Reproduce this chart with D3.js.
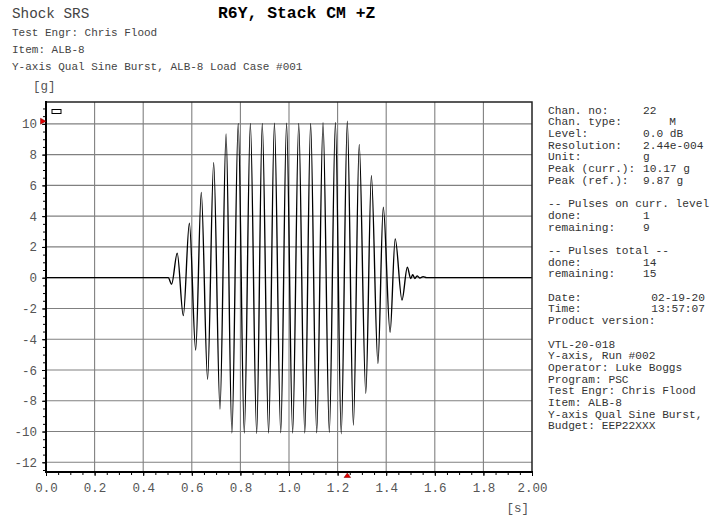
<!DOCTYPE html>
<html>
<head>
<meta charset="utf-8">
<script src="https://cdn.jsdelivr.net/npm/d3@7"></script>
<style>
  body { margin: 0; background: #fff; }
  svg { display: block; font-family: "Liberation Mono", "DejaVu Sans Mono", monospace; }
</style>
</head>
<body>
<div id="chart"></div>
<script>
// extrema of the burst
var times  = [0, 0.503, 0.517, 0.540, 0.565, 0.590, 0.616, 0.639, 0.665, 0.690, 0.716, 0.741, 0.765,
              0.791, 0.816, 0.841, 0.867, 0.890, 0.916, 0.940, 0.966, 0.990, 1.015, 1.040, 1.065,
              1.089, 1.114, 1.140, 1.166, 1.191, 1.215, 1.240, 1.265, 1.289, 1.316, 1.339, 1.366,
              1.388, 1.416, 1.437, 1.465, 1.487, 1.501, 1.509, 1.518, 1.527, 1.538, 1.552, 1.566, 2.0];
var accel  = [0, 0, -0.42, 1.59, -2.47, 3.54, -4.70, 5.55, -6.61, 7.48, -8.54, 9.34, -10.1,
              10.02, -10.1, 10.03, -10.12, 10.02, -10.1, 10.04, -10.08, 10.05, -10.1, 10.03, -10.1,
              10.02, -10.08, 10.08, -10.05, 10.1, -10.15, 10.17, -9.58, 8.67, -7.52, 6.63, -5.57,
              4.58, -3.55, 2.52, -1.45, 0.68, -0.06, 0.2, -0.05, 0.12, -0.02, 0.07, 0, 0];

var peakCurr = 10.17, peakTime = 1.24;

var yTicks = [-12, -10, -8, -6, -4, -2, 0, 2, 4, 6, 8, 10];
var xTicks = [0, 0.2, 0.4, 0.6, 0.8, 1.0, 1.2, 1.4, 1.6, 1.8, 2.0];
var xTickLabels = ["0.0", "0.2", "0.4", "0.6", "0.8", "1.0", "1.2", "1.4", "1.6", "1.8", "2.00"];

var headerLines = ["Test Engr: Chris Flood", "Item: ALB-8", "Y-axis Qual Sine Burst, ALB-8 Load Case #001"];

var infoLabels = ["Chan. no:", "Chan. type:", "Level:", "Resolution:", "Unit:", "Peak (curr.):", "Peak (ref.):", "",
                  "-- Pulses on curr. level", "done:", "remaining:", "",
                  "-- Pulses total --", "done:", "remaining:", "",
                  "Date:", "Time:", "Product version:", "",
                  "VTL-20-018", "Y-axis, Run #002", "Operator: Luke Boggs", "Program: PSC",
                  "Test Engr: Chris Flood", "Item: ALB-8", "Y-axis Qual Sine Burst,", "Budget: EEP22XXX"];
var infoValues = ["22", "M", "0.0 dB", "2.44e-004", "g", "10.17 g", "9.87 g", "",
                  "", "1", "9", "",
                  "", "14", "15", "",
                  "02-19-20", "13:57:07", "", "",
                  "", "", "", "", "", "", "", ""];

var W = 722, H = 518;
var plot = {left: 46, right: 532, top: 102, bottom: 472};

var svg = d3.select("#chart").append("svg")
    .attr("width", W)
    .attr("height", H);

svg.append("rect").attr("width", W).attr("height", H).attr("fill", "#fff");

var x = d3.scaleLinear().domain([0, 2]).range([plot.left, plot.right]);
var y = d3.scaleLinear().domain([-12.63, 11.42]).range([plot.bottom, plot.top]);

// header
svg.append("text").attr("x", 12).attr("y", 18)
    .style("font-size", "14.3px").attr("fill", "#444").text("Shock SRS");
svg.append("text").attr("x", 218).attr("y", 18)
    .style("font-size", "16.4px").style("font-weight", "bold").attr("fill", "#000")
    .text("R6Y, Stack CM +Z");
svg.selectAll("text.hdr")
    .data(headerLines)
    .enter()
    .append("text")
    .classed("hdr", true)
    .attr("x", 12)
    .attr("y", (d, i) => 35.5 + i * 17.3)
    .style("font-size", "11px")
    .attr("fill", "#444")
    .text(d => d);
svg.append("text").attr("x", 33).attr("y", 90)
    .style("font-size", "12.5px").attr("fill", "#555").text("[g]");
svg.append("text").attr("x", 529).attr("y", 512).attr("text-anchor", "end")
    .style("font-size", "12.5px").attr("fill", "#555").text("[s]");

// grid
svg.selectAll("line.hgrid")
    .data(yTicks)
    .enter()
    .append("line")
    .classed("hgrid", true)
    .attr("x1", plot.left).attr("x2", plot.right)
    .attr("y1", d => y(d)).attr("y2", d => y(d))
    .style("stroke", "#808080")
    .style("stroke-width", 1.1);
svg.selectAll("line.vgrid")
    .data(xTicks.slice(1, -1))
    .enter()
    .append("line")
    .classed("vgrid", true)
    .attr("x1", d => x(d)).attr("x2", d => x(d))
    .attr("y1", plot.top).attr("y2", plot.bottom)
    .style("stroke", "#808080")
    .style("stroke-width", 1.1);

// waveform
var pts = times.map((t, i) => [t, accel[i]]);
var line = d3.line()
    .x(d => x(d[0]))
    .y(d => y(d[1]))
    .curve(d3.curveMonotoneX);
svg.append("path")
    .datum(pts)
    .attr("d", line)
    .style("fill", "none")
    .style("stroke", "#000")
    .style("stroke-width", 1.35);

// axes
var yAxis = d3.axisLeft(y).tickValues(yTicks).tickSize(4).tickPadding(5).tickFormat(d => d);
var yMinor = d3.axisLeft(y).tickValues(d3.range(-12.5, 11.01, 0.5)).tickSize(3).tickFormat("");
var xAxis = d3.axisBottom(x).tickValues(xTicks).tickSize(4).tickPadding(7.5)
    .tickFormat((d, i) => xTickLabels[i]);
var xMinor = d3.axisBottom(x).tickValues(d3.range(0, 2.001, 0.05)).tickSize(3).tickFormat("");

function styleAxis(g){
    g.select(".domain").remove();
    g.selectAll("line").style("stroke", "#000");
    g.selectAll("text")
        .style("font-family", "Liberation Mono, monospace")
        .style("font-size", "12.5px")
        .attr("fill", "#555");
}
svg.append("g").attr("transform", "translate(" + plot.left + ",0)").call(yMinor).call(styleAxis);
svg.append("g").attr("transform", "translate(" + plot.left + ",0)").call(yAxis).call(styleAxis);
svg.append("g").attr("transform", "translate(0," + plot.bottom + ")").call(xMinor).call(styleAxis);
svg.append("g").attr("transform", "translate(0," + plot.bottom + ")").call(xAxis).call(styleAxis);

// frame
svg.append("rect")
    .attr("x", plot.left).attr("y", plot.top)
    .attr("width", plot.right - plot.left).attr("height", plot.bottom - plot.top)
    .style("fill", "none").style("stroke", "#222").style("stroke-width", 1.5);
svg.append("line")
    .attr("x1", plot.left).attr("x2", plot.left).attr("y1", plot.top - 1).attr("y2", plot.bottom + 1)
    .style("stroke", "#000").style("stroke-width", 2);
svg.append("line")
    .attr("x1", plot.left - 1).attr("x2", plot.right + 1).attr("y1", plot.bottom).attr("y2", plot.bottom)
    .style("stroke", "#000").style("stroke-width", 2);

// small legend box
svg.append("rect")
    .attr("x", plot.left + 6).attr("y", plot.top + 7.5).attr("width", 9).attr("height", 4)
    .style("fill", "#fff").style("stroke", "#000").style("stroke-width", 1);

// peak markers
var py = y(peakCurr), px = x(peakTime);
svg.append("path")
    .attr("d", "M" + (plot.left - 5.5) + "," + (py - 3) + "L" + plot.left + "," + py + "L" + (plot.left - 5.5) + "," + (py + 3) + "Z")
    .style("fill", "#e00000").style("stroke", "#700").style("stroke-width", 0.5);
svg.append("path")
    .attr("d", "M" + (px - 3.3) + "," + (plot.bottom + 5.5) + "L" + px + "," + (plot.bottom + 1) + "L" + (px + 3.3) + "," + (plot.bottom + 5.5) + "Z")
    .style("fill", "#e00000").style("stroke", "#700").style("stroke-width", 0.5);

// info panel
var info = svg.append("g").style("font-size", "11.2px").attr("fill", "#333");
info.selectAll("text.lab")
    .data(infoLabels)
    .enter()
    .append("text")
    .classed("lab", true)
    .attr("x", 548)
    .attr("y", (d, i) => 113.5 + i * 11.7)
    .text(d => d);
info.selectAll("text.val")
    .data(infoValues)
    .enter()
    .append("text")
    .classed("val", true)
    .attr("x", (d, i) => (i == 1 ? 676 : (i == 16 || i == 17) ? 705 : 643))
    .attr("text-anchor", (d, i) => (i == 1 || i == 16 || i == 17) ? "end" : "start")
    .attr("y", (d, i) => 113.5 + i * 11.7)
    .text(d => d);
</script>
</body>
</html>
